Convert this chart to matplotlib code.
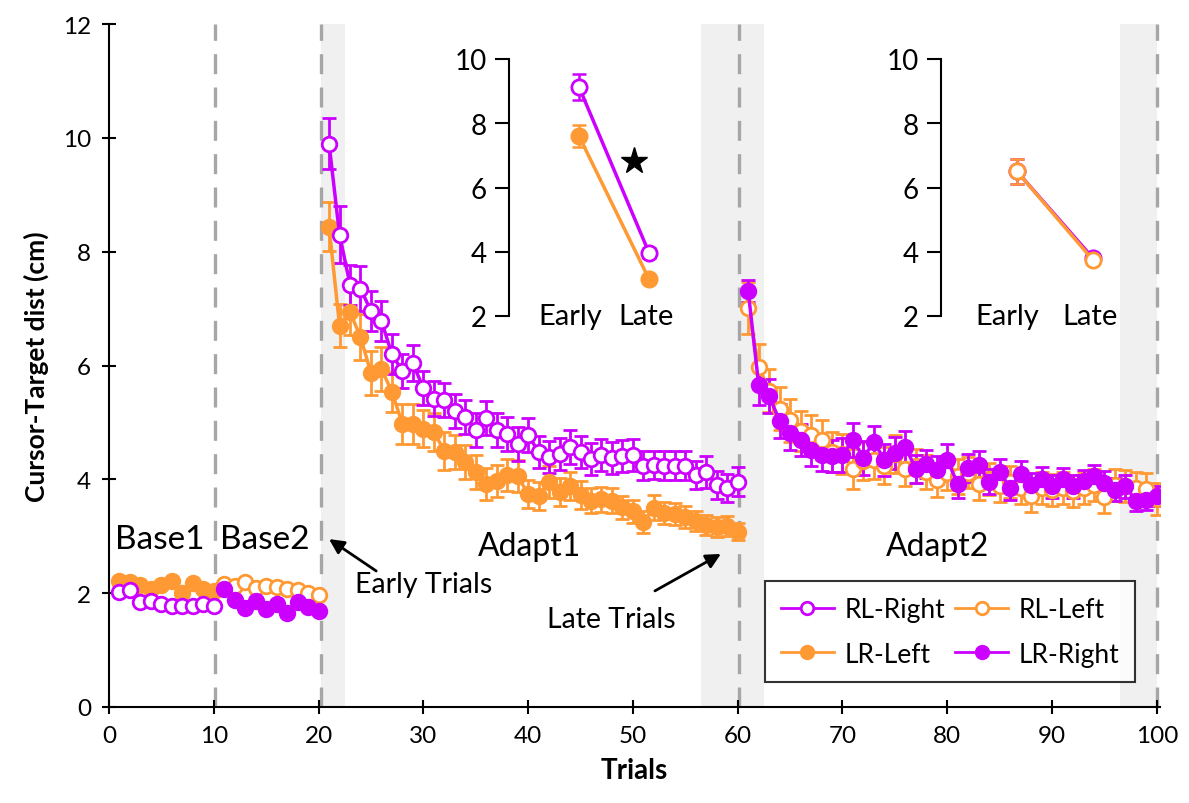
import matplotlib.pyplot as plt
import numpy as np
from matplotlib.lines import Line2D

plt.rcParams['font.family'] = ['Lato', 'DejaVu Sans']

PURPLE = '#CC00FF'
ORANGE = '#FF9933'

# ---- data ----
base1_trials = np.arange(1, 11)
base2_trials = np.arange(11, 21)
adapt1_trials = np.arange(21, 61)
adapt2_trials = np.arange(61, 101)

rl_right_base = [2.02, 2.05, 1.85, 1.87, 1.81, 1.78, 1.78, 1.77, 1.81, 1.78]
lr_left_base = [2.21, 2.2, 2.15, 2.08, 2.15, 2.22, 2.0, 2.18, 2.07, 2.03]
rl_left_base = [2.16, 2.13, 2.2, 2.09, 2.13, 2.11, 2.07, 2.06, 2.0, 1.97]
lr_right_base = [2.07, 1.88, 1.74, 1.86, 1.72, 1.81, 1.65, 1.85, 1.76, 1.69]

rl_right_adapt1 = [9.9, 8.3, 7.42, 7.35, 6.96, 6.78, 6.2, 5.9, 6.04, 5.6,
                   5.42, 5.4, 5.2, 5.1, 4.87, 5.08, 4.87, 4.8, 4.62, 4.78,
                   4.48, 4.39, 4.45, 4.57, 4.48, 4.36, 4.43, 4.38, 4.41, 4.43,
                   4.24, 4.25, 4.24, 4.24, 4.24, 4.08, 4.13, 3.9, 3.85, 3.96]
rl_right_adapt1_err = [0.45, 0.5, 0.35, 0.4, 0.35, 0.35, 0.35, 0.3, 0.32, 0.3,
                       0.3, 0.3, 0.3, 0.3, 0.3, 0.3, 0.3, 0.3, 0.3, 0.3,
                       0.28, 0.28, 0.28, 0.3, 0.28, 0.28, 0.28, 0.28, 0.28, 0.28,
                       0.25, 0.25, 0.25, 0.25, 0.25, 0.25, 0.28, 0.25, 0.25, 0.25]

lr_left_adapt1 = [8.44, 6.7, 6.94, 6.5, 5.87, 5.94, 5.54, 4.97, 4.97, 4.89,
                  4.83, 4.5, 4.48, 4.3, 4.13, 3.92, 3.97, 4.08, 4.06, 3.74,
                  3.71, 3.96, 3.78, 3.88, 3.72, 3.62, 3.65, 3.62, 3.51, 3.44,
                  3.25, 3.5, 3.41, 3.39, 3.34, 3.27, 3.2, 3.16, 3.18, 3.08]
lr_left_adapt1_err = [0.43, 0.38, 0.4, 0.4, 0.38, 0.38, 0.35, 0.35, 0.35, 0.33,
                      0.33, 0.33, 0.3, 0.3, 0.3, 0.28, 0.28, 0.28, 0.28, 0.25,
                      0.25, 0.28, 0.25, 0.25, 0.25, 0.22, 0.22, 0.22, 0.2, 0.2,
                      0.2, 0.22, 0.2, 0.2, 0.2, 0.18, 0.18, 0.18, 0.18, 0.15]

lr_right_adapt2 = [7.31, 5.66, 5.46, 5.03, 4.82, 4.69, 4.52, 4.43, 4.41, 4.43,
                   4.69, 4.38, 4.66, 4.34, 4.46, 4.57, 4.18, 4.27, 4.16, 4.34,
                   3.92, 4.2, 4.25, 3.96, 4.13, 3.85, 4.1, 3.9, 4.0, 3.88,
                   4.0, 3.88, 3.97, 4.06, 3.94, 3.82, 3.88, 3.62, 3.64, 3.71]
lr_right_adapt2_err = [0.2, 0.35, 0.3, 0.3, 0.3, 0.28, 0.28, 0.28, 0.28, 0.3,
                       0.3, 0.3, 0.28, 0.28, 0.28, 0.28, 0.25, 0.25, 0.25, 0.28,
                       0.25, 0.25, 0.25, 0.22, 0.22, 0.22, 0.22, 0.22, 0.22, 0.2,
                       0.2, 0.2, 0.2, 0.2, 0.2, 0.2, 0.2, 0.18, 0.18, 0.18]

rl_left_adapt2 = [7.01, 5.98, 5.56, 5.24, 5.04, 4.85, 4.78, 4.69, 4.48, 4.45,
                  4.18, 4.32, 4.34, 4.24, 4.45, 4.18, 4.24, 4.13, 3.99, 4.11,
                  4.05, 4.12, 3.92, 4.0, 3.88, 3.95, 3.85, 3.71, 3.85, 3.82,
                  3.85, 3.8, 3.85, 3.9, 3.69, 3.9, 3.88, 3.85, 3.83, 3.66]
rl_left_adapt2_err = [0.45, 0.4, 0.38, 0.38, 0.38, 0.35, 0.35, 0.35, 0.35, 0.35,
                      0.35, 0.33, 0.33, 0.33, 0.33, 0.3, 0.3, 0.3, 0.3, 0.3,
                      0.3, 0.28, 0.28, 0.28, 0.28, 0.28, 0.28, 0.28, 0.28, 0.28,
                      0.28, 0.28, 0.28, 0.28, 0.28, 0.28, 0.28, 0.28, 0.28, 0.28]

# inset summaries (Early / Late)
phase_labels = ['Early', 'Late']
inset1_rl_right = [9.13, 3.97]
inset1_rl_right_err = [0.4, 0.15]
inset1_lr_left = [7.6, 3.15]
inset1_lr_left_err = [0.35, 0.1]
inset2_rl_left = [6.5, 3.74]
inset2_rl_left_err = [0.4, 0.1]
inset2_lr_right = [6.5, 3.8]
inset2_lr_right_err = [0.4, 0.1]

fig = plt.figure(figsize=(11.89, 8.04), dpi=100)
ax = fig.add_axes([109/1189, 1-708/804, (1160-109)/1189, (708-25)/804])

# shaded early/late windows
for x0, x1 in [(20.2, 22.5), (56.5, 62.5), (96.5, 100)]:
    ax.axvspan(x0, x1, color='#F0F0F0', zorder=0, lw=0)
for xv in [10.1, 20.2, 60.1, 100]:
    ax.axvline(xv, color='#A6A6A6', ls=(0, (6, 4)), lw=2.4, zorder=1)


def series(x, y, color, filled, err=None, z=3):
    face = color if filled else 'white'
    if err is not None:
        ax.errorbar(x, y, yerr=err, fmt='none', ecolor=color, elinewidth=2,
                    capsize=5, capthick=2, zorder=z)
    ax.plot(x, y, '-', color=color, lw=2.5, marker='o', ms=10.5,
            mfc=face, mec=color, mew=2, zorder=z + 0.5)


series(base1_trials, lr_left_base, ORANGE, True)
series(base1_trials, rl_right_base, PURPLE, False)
series(base2_trials, rl_left_base, ORANGE, False)
series(base2_trials, lr_right_base, PURPLE, True)
series(adapt1_trials, lr_left_adapt1, ORANGE, True, lr_left_adapt1_err)
series(adapt1_trials, rl_right_adapt1, PURPLE, False, rl_right_adapt1_err)
series(adapt2_trials, rl_left_adapt2, ORANGE, False, rl_left_adapt2_err)
series(adapt2_trials, lr_right_adapt2, PURPLE, True, lr_right_adapt2_err)

ax.set_xlim(0, 100.3)
ax.set_ylim(0, 12)
ax.set_xticks(range(0, 101, 10))
ax.set_yticks(range(0, 13, 2))
for s in ['top', 'right']:
    ax.spines[s].set_visible(False)
for s in ['left', 'bottom']:
    ax.spines[s].set_linewidth(1.5)
ax.tick_params(direction='inout', length=10, width=1.5, labelsize=17.5, pad=8)
ax.set_xlabel('Trials', fontsize=20, fontweight='bold', labelpad=8)
ax.set_ylabel('Cursor-Target dist (cm)', fontsize=19, fontweight='bold', labelpad=10)

# phase labels
ax.text(4.85, 2.95, 'Base1', fontsize=24, ha='center', va='center')
ax.text(14.84, 2.95, 'Base2', fontsize=24, ha='center', va='center')
ax.text(40.15, 2.83, 'Adapt1', fontsize=23, ha='center', va='center')
ax.text(79.07, 2.83, 'Adapt2', fontsize=23, ha='center', va='center')

arrow = dict(arrowstyle='-|>', color='black', lw=2, mutation_scale=22, shrinkA=0, shrinkB=0)
ax.annotate('', xy=(21.0, 2.95), xytext=(25.5, 2.39), arrowprops=arrow)
ax.text(30.07, 2.16, 'Early Trials', fontsize=20.5, ha='center', va='center')
ax.annotate('', xy=(58.4, 2.69), xytext=(52.1, 2.04), arrowprops=arrow)
ax.text(47.9, 1.55, 'Late Trials', fontsize=20.5, ha='center', va='center')

# legend
handles = [
    Line2D([], [], color=PURPLE, lw=2, marker='o', ms=9, mfc='white', mec=PURPLE, mew=2),
    Line2D([], [], color=ORANGE, lw=2, marker='o', ms=10, mfc=ORANGE, mec=ORANGE),
    Line2D([], [], color=ORANGE, lw=2, marker='o', ms=9, mfc='white', mec=ORANGE, mew=2),
    Line2D([], [], color=PURPLE, lw=2, marker='o', ms=10, mfc=PURPLE, mec=PURPLE),
]
labels = ['RL-Right', 'LR-Left', 'RL-Left', 'LR-Right']
leg = fig.legend(handles, labels, ncol=2, loc='upper left',
                 bbox_to_anchor=(765/1189, 1-582/804), fontsize=19,
                 frameon=True, fancybox=False, edgecolor='black',
                 handlelength=2.0, columnspacing=0.4, handletextpad=0.4,
                 borderpad=0.6, labelspacing=0.75, borderaxespad=0)
leg.get_frame().set_linewidth(1.5)


def inset(left_px, unit_px, a_vals, a_err, a_color, a_filled,
          b_vals, b_err, b_color, b_filled):
    width = 2.6 * unit_px
    iax = fig.add_axes([left_px/1189, 1-317/804, width/1189, 257/804])
    iax.patch.set_alpha(0)
    xs = [1, 2]
    for vals, err, color, filled in [(a_vals, a_err, a_color, a_filled),
                                     (b_vals, b_err, b_color, b_filled)]:
        iax.errorbar(xs, vals, yerr=err, fmt='none', ecolor=color,
                     elinewidth=1.8, capsize=5, capthick=1.8)
        iax.plot(xs, vals, '-', color=color, lw=2.5, marker='o', ms=11,
                 mfc=color if filled else 'white', mec=color, mew=2)
    iax.set_xlim(0, 2.6)
    iax.set_ylim(2, 10)
    iax.set_yticks([2, 4, 6, 8, 10])
    iax.set_xticks([])
    for s in ['top', 'right', 'bottom']:
        iax.spines[s].set_visible(False)
    iax.spines['left'].set_linewidth(1.5)
    iax.tick_params(axis='y', direction='out', length=10, width=1.5,
                    labelsize=20, pad=6)
    for xv, dx, lab in zip(xs, [-0.13, -0.04], phase_labels):
        iax.text(xv + dx, 2, lab, fontsize=21, ha='center', va='center')
    return iax


ins1 = inset(509, 70, inset1_lr_left, inset1_lr_left_err, ORANGE, True,
             inset1_rl_right, inset1_rl_right_err, PURPLE, False)
ins1.plot([1.79], [6.82], marker='*', color='black', ms=20, ls='none')
inset(941, 76, inset2_lr_right, inset2_lr_right_err, PURPLE, True,
      inset2_rl_left, inset2_rl_left_err, ORANGE, False)

fig.savefig('out.png', dpi=100)
